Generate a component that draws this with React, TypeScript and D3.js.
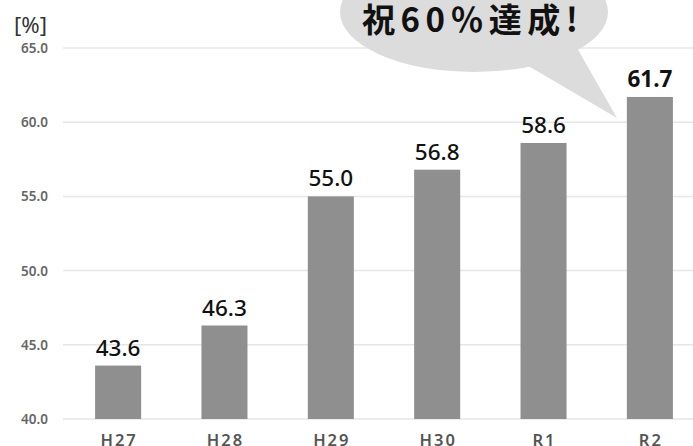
import React from 'react';
import * as d3 from 'd3';

const categories = ['H27', 'H28', 'H29', 'H30', 'R1', 'R2'];
const values = [43.6, 46.3, 55.0, 56.8, 58.6, 61.7];
const yTicks = [40, 45, 50, 55, 60, 65];

const W = 693;
const H = 446;

function App() {
  const x = d3.scaleBand<string>().domain(categories).range([65, 703]).paddingInner(0.567).paddingOuter(0.283);
  const y = d3.scaleLinear().domain([40, 65]).range([419, 48]);
  const font = "'Noto Sans', 'Open Sans', sans-serif";
  const last = categories.length - 1;

  return (
    <svg width={W} height={H} style={{ position: 'absolute', left: 0, top: 0 }} fontFamily={font}>
      <rect width={W} height={H} fill="#fff" />
      {yTicks.map((t) => (
        <g key={t}>
          <line x1={63} x2={W} y1={y(t)} y2={y(t)} stroke="#e6e6e6" strokeWidth={1.5} />
          <text x={48} y={y(t)} textAnchor="end" dominantBaseline="central" fontSize={13.5} fontWeight={600} fill="#666">
            {t.toFixed(1)}
          </text>
        </g>
      ))}
      <text x={14} y={33} fontSize={21} fill="#333" textLength={33} lengthAdjust="spacingAndGlyphs">[%]</text>

      {/* speech bubble */}
      <ellipse cx={474} cy={12} rx={134} ry={60} fill="#dcdcdc" />
      <polygon points="525,64 617,118 577,48" fill="#dcdcdc" />
      <text x={362} y={32} fontSize={33} fontWeight={700} fill="#111"
        fontFamily="'Noto Sans CJK JP', sans-serif" textLength={216} lengthAdjust="spacing">
        祝60％達成!
      </text>

      {categories.map((c, i) => (
        <g key={c}>
          <rect x={x(c)} y={y(values[i])} width={x.bandwidth()} height={y(40) - y(values[i])} fill="#8f8f8f" />
          <text x={(x(c) ?? 0) + x.bandwidth() / 2} y={y(values[i]) - 10} textAnchor="middle" fontSize={22.5}
            fontWeight={i === last ? 700 : 500} fill="#111">
            {values[i].toFixed(1)}
          </text>
          <text x={(x(c) ?? 0) + x.bandwidth() / 2 + 1} y={446} textAnchor="middle" fontSize={16.5} fontWeight={600}
            fill="#555" letterSpacing={2}>
            {c}
          </text>
        </g>
      ))}
    </svg>
  );
}

export default App;
